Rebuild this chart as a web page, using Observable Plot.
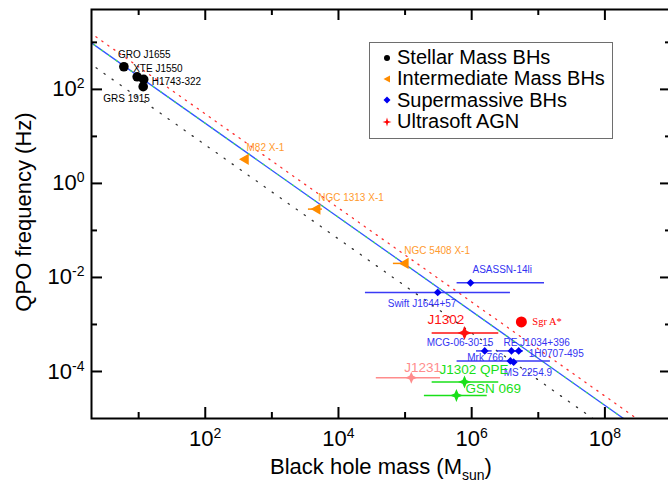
<!DOCTYPE html>
<html><head><meta charset="utf-8">
<script src="https://cdn.jsdelivr.net/npm/d3@7"></script>
<script src="https://cdn.jsdelivr.net/npm/@observablehq/plot@0.6"></script>
<style>
html,body{margin:0;padding:0;background:#fff;}
#wrap{position:relative;width:668px;height:488px;overflow:hidden;font-family:"Liberation Sans",Arial,Helvetica,sans-serif;}
#legend{position:absolute;left:369px;top:42px;width:244px;height:97px;border:1px solid #6e6e6e;background:#fff;box-sizing:border-box;padding-top:4px;}
#legend .row{display:flex;align-items:center;height:21.3px;font-size:20px;color:#000;white-space:nowrap;}
#legend .row svg{margin-left:12px;margin-right:5px;}
</style></head><body><div id="wrap"></div>
<script>
// ---------- DATA ----------
const stellarNames = ["GRO J1655", "XTE J1550", "H1743-322", "GRS 1915"];
const stellarMass  = [6.0, 9.5, 11.9, 11.7];
const stellarFreq  = [303, 185, 163, 114];

const imbhNames  = ["M82 X-1", "NGC 1313 X-1", "NGC 5408 X-1"];
const imbhMass   = [402, 4790, 101000];
const imbhFreq   = [3.25, 0.284, 0.0199];
const imbhMassLo = [402, 3540, 66800];
const imbhMassHi = [402, 5740, 108000];

const smbhNames  = ["ASASSN-14li", "Swift J1644+57", "MCG-06-30-15", "RE J1034+396", "1H0707-495", "Mrk 766", "MS 2254.9"];
const smbhMass   = [9.6e5, 3.09e5, 1.57e6, 3.95e6, 5.08e6, 3.81e6, 4.27e6];
const smbhFreq   = [7.7e-3, 4.8e-3, 2.74e-4, 2.74e-4, 2.74e-4, 1.68e-4, 1.58e-4];
const smbhMassLo = [6.04e5, 2.54e4, 1.18e6, 2.41e6, 4.5e6, 6.04e5, 4.27e6];
const smbhMassHi = [1.24e7, 3.82e6, 2.03e6, 5.98e6, 5.8e6, 1.52e7, 4.27e6];

const agnNames  = ["J1302", "J1231", "J1302 QPE", "GSN 069"];
const agnMass   = [7.8e5, 1.24e5, 7.8e5, 5.9e5];
const agnFreq   = [6.6e-4, 7.4e-5, 6.0e-5, 3.1e-5];
const agnMassLo = [2.55e5, 3.7e4, 2.55e5, 1.95e5];
const agnMassHi = [2.55e6, 3.4e5, 2.55e6, 1.71e6];

const sgrName = ["Sgr A*"];
const sgrMass = [5.57e6];
const sgrFreq = [1.13e-3];

// scaling relations f = C / M
const relationMassRange = [1, 1e10];
const relationNorm = {fit: 1900, upper: 3000, lower: 660};

const groupNames = ["Stellar Mass BHs", "Intermediate Mass BHs", "Supermassive BHs", "Ultrasoft AGN"];
const xMajor = [1e2, 1e4, 1e6, 1e8], xMinor = [1e1, 1e3, 1e5, 1e7];
const yMajor = [1e-4, 1e-2, 1e0, 1e2], yMinor = [1e-3, 1e-1, 1e1, 1e3];

// ---------- BUILD ----------
const rows = (names, mass, freq, lo, hi) => names.map((name, i) => ({name, mass: mass[i], freq: freq[i], lo: lo ? lo[i] : mass[i], hi: hi ? hi[i] : mass[i]}));
const stellar = rows(stellarNames, stellarMass, stellarFreq);
const imbh = rows(imbhNames, imbhMass, imbhFreq, imbhMassLo, imbhMassHi);
const smbh = rows(smbhNames, smbhMass, smbhFreq, smbhMassLo, smbhMassHi);
const agn = rows(agnNames, agnMass, agnFreq, agnMassLo, agnMassHi);
const sgr = rows(sgrName, sgrMass, sgrFreq);
const relation = (C) => relationMassRange.map(m => ({mass: m, freq: C / m}));

// styles
const BLUE_T = "#3333f2", ORANGE = "#ff8c00", ORANGE_T = "#ff9a2e";
const agnColor = {"J1302": "#ff1010", "J1231": "#ff8c8c", "J1302 QPE": "#19e019", "GSN 069": "#19e019"};
const agnSize = {"J1302": 7, "J1231": 6, "J1302 QPE": 6.5, "GSN 069": 6.5};
const labelLayout = {
  "GRO J1655": {dx: -6, dy: -12, a: "start"},
  "XTE J1550": {dx: -4, dy: -8, a: "start"},
  "H1743-322": {dx: 8, dy: 2, a: "start"},
  "GRS 1915": {dx: -40, dy: 12, a: "start"},
  "M82 X-1": {dx: 1, dy: -12, a: "start"},
  "NGC 1313 X-1": {dx: 1, dy: -11, a: "start"},
  "NGC 5408 X-1": {dx: -1, dy: -13, a: "start"},
  "ASASSN-14li": {dx: 2, dy: -13, a: "start"},
  "Swift J1644+57": {dx: -50, dy: 11, a: "start"},
  "MCG-06-30-15": {dx: -58, dy: -8, a: "start"},
  "RE J1034+396": {dx: -8, dy: -8, a: "start"},
  "1H0707-495": {dx: 10, dy: 3, a: "start"},
  "Mrk 766": {dx: -7, dy: -3, a: "end"},
  "MS 2254.9": {dx: -10, dy: 11, a: "start"},
  "J1302": {dx: -37, dy: -13, a: "start"},
  "J1231": {dx: -7, dy: -10, a: "start"},
  "J1302 QPE": {dx: -25, dy: -12, a: "start"},
  "GSN 069": {dx: 9, dy: -7, a: "start"},
  "Sgr A*": {dx: 11, dy: 0, a: "start"}
};

const star4 = {draw(ctx, size) {
  const r = Math.sqrt(size / Math.PI), s = r * 0.3;
  ctx.moveTo(0, -r); ctx.lineTo(s, -s); ctx.lineTo(r, 0); ctx.lineTo(s, s);
  ctx.lineTo(0, r); ctx.lineTo(-s, s); ctx.lineTo(-r, 0); ctx.lineTo(-s, -s); ctx.closePath();
}};

const W = 668, H = 488, mL = 91, mR = -3, mT = 9, mB = 70;
const plotH = H - mT - mB, plotW = W - mL - mR;
const LMAJ = 11, LMIN = 6;

const labelMarks = (data, fill, fontSize, fontFamily) => data.map(d => {
  const L = labelLayout[d.name];
  return Plot.text([d], {x: "mass", y: "freq", text: "name", dx: L.dx, dy: L.dy, textAnchor: L.a,
    fill: typeof fill === "function" ? fill(d) : fill, fontSize, fontFamily});
});

const tickMarks = (vals, len) => [
  Plot.tickX(vals, {x: d => d, stroke: "#000", strokeWidth: 2, insetTop: plotH - len}),
  Plot.tickX(vals, {x: d => d, stroke: "#000", strokeWidth: 2, insetBottom: plotH - len})
];
const tickMarksY = (vals, len) => [
  Plot.tickY(vals, {y: d => d, stroke: "#000", strokeWidth: 2, insetRight: plotW - len}),
  Plot.tickY(vals, {y: d => d, stroke: "#000", strokeWidth: 2, insetLeft: plotW - len})
];

const chart = Plot.plot({
  width: W, height: H,
  marginLeft: mL, marginRight: mR, marginTop: mT, marginBottom: mB,
  x: {type: "log", domain: [10 ** 0.292, 1e9]},
  y: {type: "log", domain: [1e-5, 5000]},
  r: {type: "identity"},
  color: {type: "identity"},
  style: {fontFamily: "Liberation Sans, Arial, Helvetica, sans-serif", background: "white", overflow: "visible"},
  marks: [
    // relations
    Plot.line(relation(relationNorm.lower), {x: "mass", y: "freq", stroke: "#333", strokeWidth: 1.3, strokeDasharray: "1.3,8.5", clip: true}),
    Plot.line(relation(relationNorm.upper), {x: "mass", y: "freq", stroke: "#ff3030", strokeWidth: 1.3, strokeDasharray: "1.3,6", clip: true}),
    Plot.line(relation(relationNorm.fit), {x: "mass", y: "freq", stroke: "#3158ff", strokeWidth: 1.3, clip: true}),
    Plot.line(relation(relationNorm.fit), {x: "mass", y: "freq", stroke: "#44ee44", strokeWidth: 1.3, strokeDasharray: "1,8", clip: true}),
    // error bars
    Plot.ruleY(imbh, {y: "freq", x1: "lo", x2: "hi", stroke: ORANGE, strokeWidth: 1.5}),
    Plot.ruleY(smbh, {y: "freq", x1: "lo", x2: "hi", stroke: "#3a3af5", strokeWidth: 1.5}),
    Plot.ruleY(agn, {y: "freq", x1: "lo", x2: "hi", stroke: d => agnColor[d.name], strokeWidth: 1.5}),
    // markers
    Plot.dot(stellar, {x: "mass", y: "freq", r: 4.8, fill: "#000", symbol: "circle"}),
    Plot.dot(imbh, {x: "mass", y: "freq", r: 4.2, fill: ORANGE, symbol: "triangle", rotate: -90}),
    Plot.dot(smbh, {x: "mass", y: "freq", r: 3.1, fill: "#0000f0", symbol: "square", rotate: 45}),
    Plot.dot(agn, {x: "mass", y: "freq", r: d => agnSize[d.name], fill: d => agnColor[d.name], symbol: star4}),
    Plot.dot(sgr, {x: "mass", y: "freq", r: 5.5, fill: "#ff0000"}),
    // labels
    ...labelMarks(stellar, "#000", 10),
    ...labelMarks(imbh, ORANGE_T, 10),
    ...labelMarks(smbh, BLUE_T, 10),
    ...labelMarks(agn, d => agnColor[d.name], 13.5),
    ...labelMarks(sgr, "#ff0000", 10.5, "Liberation Serif, Times New Roman, serif"),
    // ticks (inward)
    ...tickMarks(xMajor, LMAJ), ...tickMarks(xMinor, LMIN),
    ...tickMarksY(yMajor, LMAJ), ...tickMarksY(yMinor, LMIN),
    Plot.axisX(xMajor, {anchor: "bottom", tickSize: 0, tickPadding: 12, fontSize: 22, label: null, tickFormat: d => "10^" + Math.round(Math.log10(d))}),
    Plot.axisY(yMajor, {anchor: "left", tickSize: 0, tickPadding: 7, fontSize: 22, label: null, tickFormat: d => "10^" + Math.round(Math.log10(d))}),
    Plot.frame({stroke: "#000", strokeWidth: 2})
  ]
});

// superscripts in tick labels
d3.select(chart).selectAll('g[aria-label="x-axis tick label"] text, g[aria-label="y-axis tick label"] text').each(function() {
  const t = this.textContent;
  const parts = t.split("^");
  if (parts.length !== 2) return;
  const sel = d3.select(this);
  sel.text(null);
  sel.append("tspan").text(parts[0]);
  sel.append("tspan").attr("dy", "-8").attr("font-size", "14").text(parts[1]);
});

// axis titles
const svg = d3.select(chart);
svg.append("text").attr("transform", "translate(31,212) rotate(-90)").attr("text-anchor", "middle")
  .attr("font-size", 22).attr("fill", "#000").text("QPO frequency (Hz)");
const xt = svg.append("text").attr("x", 381).attr("y", 474).attr("text-anchor", "middle").attr("font-size", 22).attr("fill", "#000");
xt.append("tspan").text("Black hole mass (M");
xt.append("tspan").attr("dy", 6).attr("font-size", 14).text("sun");
xt.append("tspan").attr("dy", -6).text(")");

const wrap = document.getElementById("wrap");
wrap.appendChild(chart);

// legend
const legendSyms = [
  '<svg width="10" height="12"><circle cx="5" cy="6" r="3" fill="#000"/></svg>',
  '<svg width="10" height="12"><path d="M1.5,6 L8,2.5 L8,9.5 Z" fill="' + ORANGE + '"/></svg>',
  '<svg width="10" height="12"><path d="M5,2.5 L8.5,6 L5,9.5 L1.5,6 Z" fill="#0000f0"/></svg>',
  '<svg width="10" height="12"><path d="M5,1.5 L6,5 L9.5,6 L6,7 L5,10.5 L4,7 L0.5,6 L4,5 Z" fill="#ff0000"/></svg>'
];
const leg = document.createElement("div");
leg.id = "legend";
groupNames.forEach((g, i) => {
  const row = document.createElement("div");
  row.className = "row";
  row.innerHTML = legendSyms[i];
  const span = document.createElement("span");
  span.textContent = g;
  row.appendChild(span);
  leg.appendChild(row);
});
wrap.appendChild(leg);
</script>
</body></html>
